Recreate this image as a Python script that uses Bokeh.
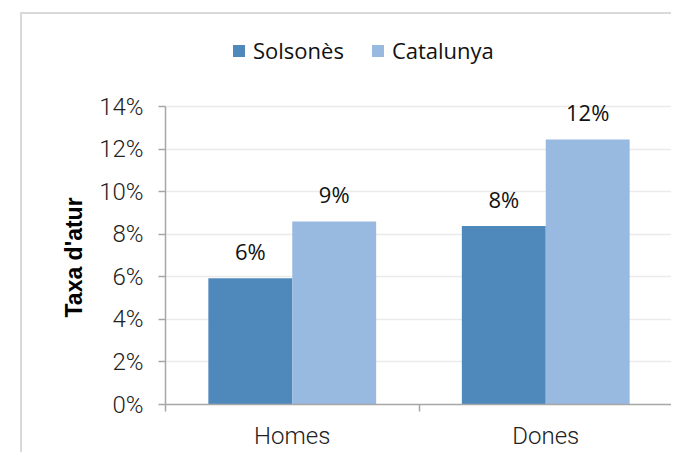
from bokeh.plotting import figure
from bokeh.models import (ColumnDataSource, FixedTicker, Legend, LegendItem,
                          LabelSet, PrintfTickFormatter, Range1d, Title)
from bokeh.core.properties import value
from bokeh.embed import file_html
from bokeh.resources import INLINE

# ---- data ----
categories = ["Homes", "Dones"]
series_names = ["Solsonès", "Catalunya"]
solsones = [5.93, 8.39]
catalunya = [8.6, 12.45]
y_ticks = [0, 2, 4, 6, 8, 10, 12, 14]
y_title = "Taxa d'atur"
colors = ["#4f89bc", "#98b9e0"]

# ---- layout ----
bar_w = 0.331
n = len(categories)
x_centers = [i + 0.5 for i in range(n)]
boundaries = list(range(n + 1))

frame_h = 370          # plot frame incl. room for the legend on top
axis_h = 298           # pixels used by the 0..14 % axis
y_max = y_ticks[-1] * frame_h / axis_h

p = figure(width=651, height=440, output_backend="svg", toolbar_location=None,
           x_range=Range1d(0, n), y_range=Range1d(0, y_max),
           min_border_left=143, min_border_right=1, min_border_top=20,
           min_border_bottom=50)
p.styles = {"margin-left": "20px", "margin-top": "12px",
            "border-left": "2px solid #d9d9d9", "border-top": "2px solid #d9d9d9"}
p.outline_line_color = None
p.background_fill_color = "white"
p.border_fill_color = "white"

renderers = []
for k, (vals, col) in enumerate(zip([solsones, catalunya], colors)):
    shift = (-0.5 + k) * bar_w
    xs = [c + shift for c in x_centers]
    src = ColumnDataSource(dict(x=xs, top=vals,
                                text=[f"{v:.0f}%" for v in vals]))
    r = p.vbar(x="x", top="top", width=bar_w, source=src, fill_color=col,
               line_color=None)
    renderers.append(r)
    lbl = LabelSet(x="x", y="top", text="text", source=src,
                   text_align="center", text_baseline="alphabetic",
                   y_offset=18, text_font=value("Open Sans"),
                   text_font_size="22px", text_color="#111111")
    p.add_layout(lbl)

legend = Legend(items=[LegendItem(label=s, renderers=[r])
                       for s, r in zip(series_names, renderers)],
                orientation="horizontal", location=(66, axis_h + 41),
                padding=0, margin=0, spacing=26, label_standoff=7,
                glyph_width=15, glyph_height=15,
                label_text_font="Open Sans", label_text_font_size="22px",
                label_text_color="#111111",
                border_line_color=None, background_fill_alpha=0)
p.add_layout(legend)

# y axis title, placed along the 0..14 % part of the frame
title = Title(text=y_title, align="left", offset=87, standoff=20,
              text_font="Liberation Sans", text_font_style="bold",
              text_font_size="23px", text_color="#000000")
p.add_layout(title, "left")

# y axis
ya = p.yaxis[0]
ya.ticker = FixedTicker(ticks=y_ticks)
ya.bounds = (y_ticks[0], y_ticks[-1])
ya.formatter = PrintfTickFormatter(format="%d%%")
ya.major_label_text_font = "Roboto Light"
ya.major_label_text_font_size = "24px"
ya.major_label_text_color = "#222222"
ya.major_label_standoff = 15
ya.major_tick_out = 7
ya.major_tick_in = 0
ya.minor_tick_out = 0
ya.minor_tick_in = 0
ya.axis_line_color = "#a6a6a6"
ya.axis_line_width = 1.5
ya.major_tick_line_color = "#a6a6a6"
ya.major_tick_line_width = 1.5

# x axis
xa = p.xaxis[0]
xa.ticker = FixedTicker(ticks=x_centers, minor_ticks=boundaries)
xa.major_label_overrides = {c: name for c, name in zip(x_centers, categories)}
xa.major_label_text_font = "Roboto Light"
xa.major_label_text_font_size = "24px"
xa.major_label_text_color = "#222222"
xa.major_label_standoff = 10
xa.major_tick_out = 0
xa.major_tick_in = 0
xa.minor_tick_out = 7
xa.minor_tick_in = 0
xa.minor_tick_line_color = "#a6a6a6"
xa.minor_tick_line_width = 1.5
xa.axis_line_color = "#a6a6a6"
xa.axis_line_width = 1.5

p.xgrid.visible = False
p.ygrid.ticker = FixedTicker(ticks=y_ticks)
p.ygrid.grid_line_color = "#ebebeb"
p.ygrid.grid_line_width = 1.5

open("out.html", "w").write(file_html(p, INLINE))
